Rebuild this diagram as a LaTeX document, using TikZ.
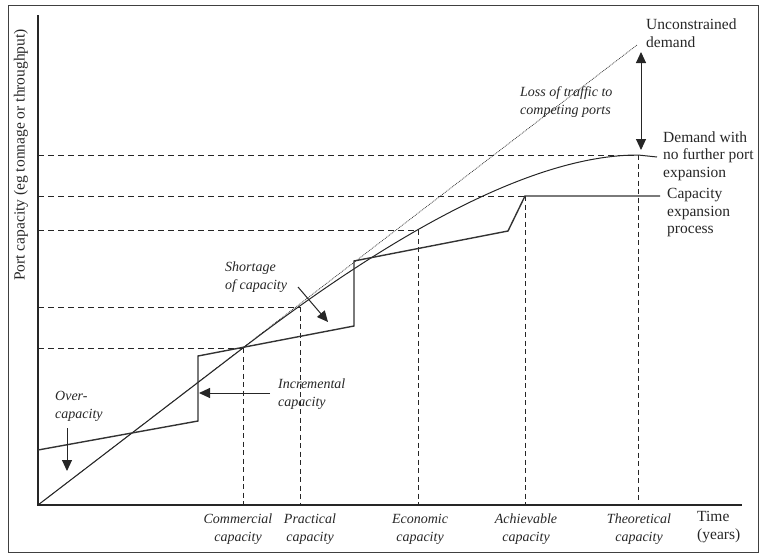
\documentclass[tikz,border=0pt]{standalone}
\usepackage{fontspec}
\setmainfont{Liberation Serif}
\usetikzlibrary{arrows.meta}
\begin{document}
\begin{tikzpicture}[x=1pt,y=-1pt,
  axisline/.style={draw=black!85,line width=1.1pt},
  dsh/.style={draw=black!85,line width=0.8pt,dash pattern=on 6pt off 4pt},
  vdsh/.style={draw=black!85,line width=0.8pt,dash pattern=on 5pt off 3.5pt},
  demandline/.style={draw=black!85,line width=1pt},
  capline/.style={draw=black!80,line width=1.4pt,line join=miter},
  dotline/.style={draw=black!80,line width=0.7pt,dash pattern=on 0.9pt off 0.9pt},
  arr/.style={draw=black!85,line width=1pt,-{Triangle[length=11pt,width=10pt]}},
  darr/.style={draw=black!85,line width=1pt,{Triangle[length=11pt,width=10pt]}-{Triangle[length=11pt,width=10pt]}},
  lbl/.style={text=black!85,font=\fontsize{15.5}{17.5}\selectfont,inner sep=0pt,align=left},
  ilbl/.style={text=black!85,font=\fontsize{14}{18}\selectfont\itshape,inner sep=0pt,align=left},
  blbl/.style={text=black!85,font=\fontsize{14}{18}\selectfont\itshape,inner sep=0pt,align=center}
]
\useasboundingbox (0,0) rectangle (759,554);
\draw[draw=black!75,line width=1pt] (8,5) rectangle (758,552);

% key coordinates
\coordinate (O) at (38,505);
\coordinate (Ytop) at (38,15);
\coordinate (Xend) at (742,505);
\coordinate (T) at (638,155);
\coordinate (A) at (525,196);
\coordinate (E) at (418,230);
\coordinate (P) at (300,307);
\coordinate (C) at (243,348);
\coordinate (Ty) at (38,155);
\coordinate (Ay) at (38,196);
\coordinate (Ey) at (38,230);
\coordinate (Py) at (38,307);
\coordinate (Cy) at (38,348);
\coordinate (Tx) at (638,505);
\coordinate (Ax) at (525,505);
\coordinate (Ex) at (418,505);
\coordinate (Px) at (300,505);
\coordinate (Cx) at (243,505);

% dashed guides
\draw[dsh] (Ty) -- (T);
\draw[dsh] (Ay) -- (A);
\draw[dsh] (Ey) -- (E);
\draw[dsh] (Py) -- (P);
\draw[dsh] (Cy) -- (C);
\draw[vdsh] (T) -- (Tx);
\draw[vdsh] (A) -- (Ax);
\draw[vdsh] (E) -- (Ex);
\draw[vdsh] (P) -- (Px);
\draw[vdsh] (C) -- (Cx);

% axes
\draw[axisline] (Ytop) -- (O) -- (Xend);

% unconstrained demand (dotted)
\coordinate (U) at (637,45);
\draw[dotline] (O) -- (U);

% demand with no further expansion
\coordinate (Dend) at (657,157);
\draw[demandline] (O) -- (C) .. controls (411,219.3) and (542.7,155) .. (T) -- (Dend);

% capacity expansion process
\coordinate (c0) at (38,450);
\coordinate (c1) at (198,421);
\coordinate (c2) at (198,356);
\coordinate (c3) at (354,326);
\coordinate (c4) at (354,261);
\coordinate (c5) at (508,231);
\coordinate (c6) at (660,196);
\draw[capline] (c0) -- (c1) -- (c2) -- (c3) -- (c4) -- (c5) -- (A) -- (c6);

% double arrow
\coordinate (da1) at (641,52);
\coordinate (da2) at (641,150);
\draw[darr] (da1) -- (da2);

% right labels
\node[lbl,anchor=west] (unc) at (646,33) {Unconstrained\\demand};
\node[lbl,anchor=west] (dem) at (663,156) {Demand with\\no further port\\expansion};
\node[lbl,anchor=west] (cep) at (667,213) {Capacity\\expansion\\process};
\node[ilbl,anchor=west] (loss) at (520,102) {Loss of traffic to\\competing ports};

% in-plot labels and arrows
\node[ilbl,anchor=west] (short) at (225,277) {Shortage\\of capacity};
\coordinate (sa1) at (298,287);
\coordinate (sa2) at (328,322);
\draw[arr] (sa1) -- (sa2);

\node[ilbl,anchor=west] (incr) at (278,394) {Incremental\\capacity};
\coordinate (ia1) at (270,393);
\coordinate (ia2) at (199,393);
\draw[arr] (ia1) -- (ia2);

\node[ilbl,anchor=west] (over) at (55,406) {Over-\\capacity};
\coordinate (oa1) at (67,428);
\coordinate (oa2) at (67,471);
\draw[arr] (oa1) -- (oa2);

% bottom labels
\node[blbl] (lc) at (238,529) {Commercial\\capacity};
\node[blbl] (lp) at (310,529) {Practical\\capacity};
\node[blbl] (le) at (420,529) {Economic\\capacity};
\node[blbl] (la) at (526,529) {Achievable\\capacity};
\node[blbl] (lt) at (639,529) {Theoretical\\capacity};
\node[lbl,anchor=west] (time) at (697,527) {Time\\(years)};

% y-axis label
\node[lbl,rotate=90] (ylab) at (21,155) {Port capacity (eg tonnage or throughput)};
\end{tikzpicture}
\end{document}
